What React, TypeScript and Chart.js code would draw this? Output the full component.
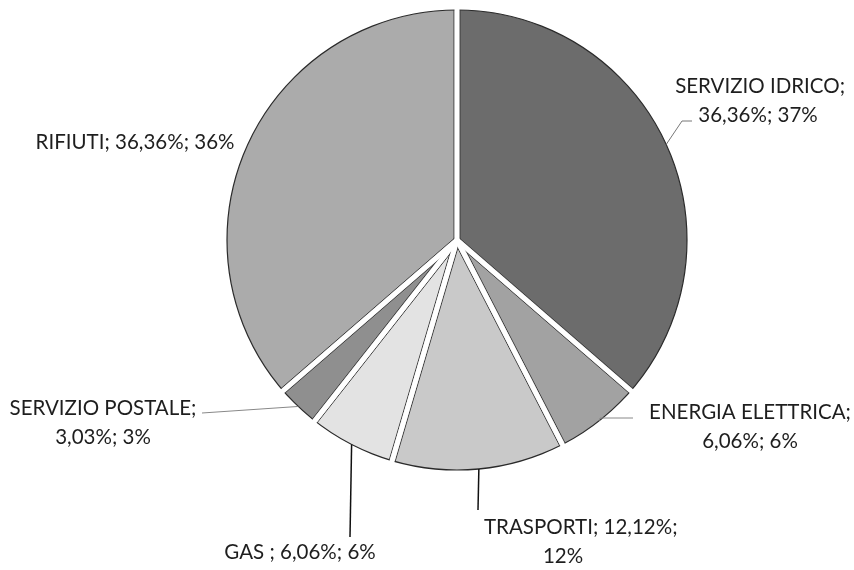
import React, { useEffect, useRef } from "react";
import { Chart, registerables } from "chart.js";

Chart.register(...registerables);

const categories = ["SERVIZIO IDRICO", "ENERGIA ELETTRICA", "TRASPORTI", "GAS ", "SERVIZIO POSTALE", "RIFIUTI"];
const values = [36.36, 6.06, 12.12, 6.06, 3.03, 36.36];
const percentText = ["36,36%", "6,06%", "12,12%", "6,06%", "3,03%", "36,36%"];
const roundedText = ["37%", "6%", "12%", "6%", "3%", "36%"];

const colors = ["#6c6c6c", "#a2a2a2", "#c9c9c9", "#e3e3e3", "#8f8f8f", "#ababab"];

type Layout = {
  split: boolean;
  x: number; y: number; align: string; x2?: number;
  leader: number[][]; color: string; lw: number;
};

const labelLayout: Layout[] = [
  { split: true, x: 845, y: 86, align: "right", x2: 758, leader: [[225, -119], [235, -119]], color: "#777", lw: 1 },
  { split: true, x: 750, y: 412, align: "center", leader: [[143, 178], [176, 178]], color: "#888", lw: 1 },
  { split: false, x: 484, y: 527, align: "left", x2: 563, leader: [[21, 270]], color: "#111", lw: 1.5 },
  { split: false, x: 300, y: 552, align: "center", leader: [[-107, 297]], color: "#111", lw: 1.5 },
  { split: true, x: 103, y: 408, align: "center", leader: [[-255, 173]], color: "#888", lw: 1 },
  { split: false, x: 135, y: 142, align: "center", leader: [], color: "#888", lw: 1 },
];

const GAP = 5;

const piePlugin = {
  id: "pieDeco",
  afterDatasetsDraw(chart: any) {
    const ctx = chart.ctx;
    const meta = chart.getDatasetMeta(0);
    ctx.save();
    const arcs = meta.data.map((a: any) => a.getProps(["x", "y", "startAngle", "endAngle", "outerRadius"], true));
    const cx = arcs[0].x, cy = arcs[0].y, R = arcs[0].outerRadius;
    ctx.beginPath();
    ctx.strokeStyle = "#2a2a2a";
    ctx.lineWidth = 1.2;
    ctx.arc(cx, cy, R, 0, Math.PI * 2);
    ctx.stroke();
    arcs.forEach((p: any) => {
      const a = p.startAngle;
      const dx = Math.cos(a), dy = Math.sin(a);
      const nx = -dy, ny = dx;
      ctx.strokeStyle = "#3a3a3a";
      ctx.lineWidth = 1;
      [-1, 1].forEach((s) => {
        ctx.beginPath();
        ctx.moveTo(cx + nx * s * (GAP / 2 + 0.5), cy + ny * s * (GAP / 2 + 0.5));
        ctx.lineTo(cx + dx * R + nx * s * (GAP / 2 + 0.5), cy + dy * R + ny * s * (GAP / 2 + 0.5));
        ctx.stroke();
      });
    });
    arcs.forEach((p: any) => {
      const a = p.startAngle;
      ctx.beginPath();
      ctx.strokeStyle = "#ffffff";
      ctx.lineWidth = GAP;
      ctx.lineCap = "butt";
      ctx.moveTo(cx, cy);
      ctx.lineTo(cx + Math.cos(a) * (R + 3), cy + Math.sin(a) * (R + 3));
      ctx.stroke();
    });
    arcs.forEach((p: any, i: number) => {
      const mid = (p.startAngle + p.endAngle) / 2;
      const L = labelLayout[i];
      if (L.leader.length) {
        ctx.beginPath();
        ctx.strokeStyle = L.color;
        ctx.lineWidth = L.lw;
        ctx.moveTo(cx + Math.cos(mid) * R, cy + Math.sin(mid) * R);
        L.leader.forEach((pt: number[]) => ctx.lineTo(cx + pt[0], cy + pt[1]));
        ctx.stroke();
      }
      ctx.fillStyle = "#1e1e1e";
      ctx.font = "20.5px Lato, 'Open Sans', sans-serif";
      ctx.textBaseline = "middle";
      const lines = L.split
        ? [categories[i] + ";", percentText[i] + "; " + roundedText[i]]
        : i === 2
        ? [categories[i] + "; " + percentText[i] + ";", roundedText[i]]
        : [categories[i] + "; " + percentText[i] + "; " + roundedText[i]];
      ctx.textAlign = L.align;
      ctx.fillText(lines[0], L.x, L.y);
      if (lines[1]) {
        ctx.textAlign = "center";
        ctx.fillText(lines[1], L.x2 !== undefined ? L.x2 : L.x, L.y + 29);
      }
    });
    ctx.restore();
  },
};

export default function App() {
  const ref = useRef<HTMLCanvasElement>(null);
  useEffect(() => {
    const chart = new Chart(ref.current as HTMLCanvasElement, {
      type: "pie",
      data: {
        labels: categories,
        datasets: [
          {
            data: values,
            backgroundColor: colors,
            borderWidth: 0,
          },
        ],
      },
      options: {
        animation: false,
        responsive: false,
        layout: { padding: { top: 10, bottom: 100, left: 200, right: 140 } },
        plugins: { legend: { display: false }, tooltip: { enabled: false } },
      },
      plugins: [piePlugin],
    });
    return () => chart.destroy();
  }, []);
  return (
    <div style={{ position: "absolute", left: 0, top: 0, width: 854, height: 570, background: "#fff" }}>
      <canvas ref={ref} width={854} height={570} />
    </div>
  );
}
